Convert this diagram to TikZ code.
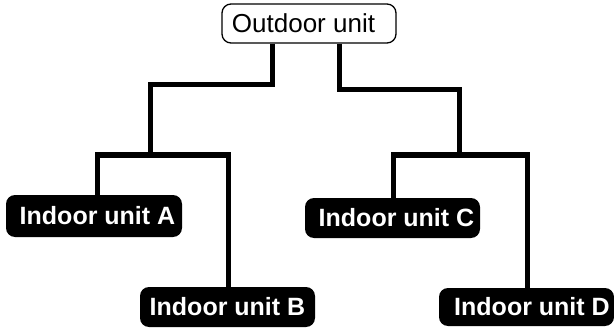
\documentclass[tikz,border=0pt]{standalone}
\usepackage{fontspec}
\setmainfont{Liberation Sans}
\begin{document}
\begin{tikzpicture}[x=1pt,y=-1pt,
  unitbox/.style={draw=black,line width=1.3pt,rounded corners=9pt,minimum width=174pt,minimum height=39pt,inner sep=0pt,font=\fontsize{26}{30}\selectfont},
  indoorbox/.style={fill=black,text=white,rounded corners=9pt,inner sep=0pt,minimum height=40pt,font=\bfseries\fontsize{25}{30}\selectfont},
  pipe/.style={line width=5pt,line join=miter}]
\useasboundingbox (0,0) rectangle (614,329);
\node[unitbox] (out) at (309,23.5) {Outdoor unit\hspace*{11pt}};
\node[indoorbox,minimum width=176pt,minimum height=42pt] (A) at (94,216) {\hspace*{7pt}Indoor unit A};
\node[indoorbox,minimum width=175pt] (B) at (227.5,307) {Indoor unit B};
\node[indoorbox,minimum width=175pt] (C) at (392.5,218) {\hspace*{8pt}Indoor unit C};
\node[indoorbox,minimum width=175pt,minimum height=38pt] (D) at (526.5,307) {\hspace*{11pt}Indoor unit D};
\coordinate (jl) at (150,155);
\coordinate (jr) at (459,155);
\draw[pipe] (out.south -| 272.7,0) |- (150,84.3) -- (jl);
\draw[pipe] (out.south -| 339,0) |- (459,89.3) -- (jr);
\draw[pipe] (A.north -| 97,0) |- (228,155) -- (B.north -| 228,0);
\draw[pipe] (C.north -| 393,0) |- (527,155) -- (D.north -| 527,0);
\end{tikzpicture}
\end{document}
